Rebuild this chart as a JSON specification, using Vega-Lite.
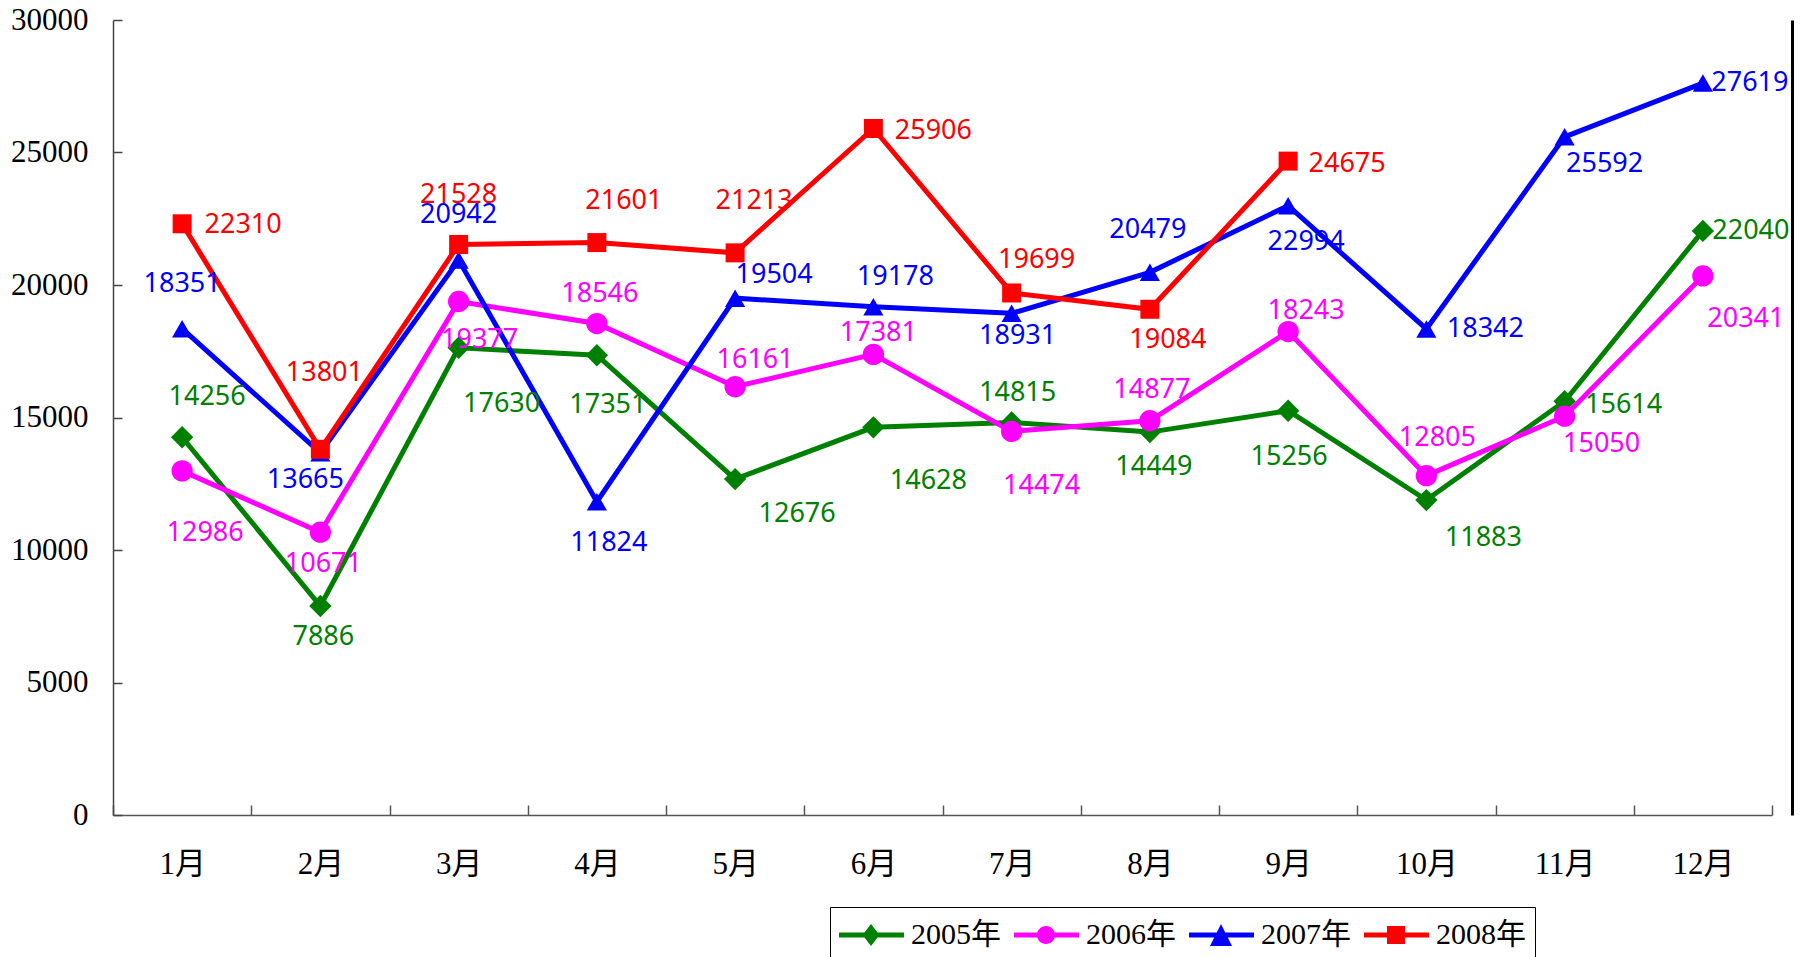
{
  "$schema": "https://vega.github.io/schema/vega-lite/v6.json",
  "width": 1659,
  "height": 795,
  "autosize": {"type": "none"},
  "padding": {"left": 113, "top": 20, "right": 30, "bottom": 142},
  "background": "white",
  "config": {"view": {"stroke": null}},
  "data": {"values": [
    {"m": "1月", "s": "2005年", "v": 14256}, {"m": "2月", "s": "2005年", "v": 7886}, {"m": "3月", "s": "2005年", "v": 17630},
    {"m": "4月", "s": "2005年", "v": 17351}, {"m": "5月", "s": "2005年", "v": 12676}, {"m": "6月", "s": "2005年", "v": 14628},
    {"m": "7月", "s": "2005年", "v": 14815}, {"m": "8月", "s": "2005年", "v": 14449}, {"m": "9月", "s": "2005年", "v": 15256},
    {"m": "10月", "s": "2005年", "v": 11883}, {"m": "11月", "s": "2005年", "v": 15614}, {"m": "12月", "s": "2005年", "v": 22040},
    {"m": "1月", "s": "2006年", "v": 12986}, {"m": "2月", "s": "2006年", "v": 10671}, {"m": "3月", "s": "2006年", "v": 19377},
    {"m": "4月", "s": "2006年", "v": 18546}, {"m": "5月", "s": "2006年", "v": 16161}, {"m": "6月", "s": "2006年", "v": 17381},
    {"m": "7月", "s": "2006年", "v": 14474}, {"m": "8月", "s": "2006年", "v": 14877}, {"m": "9月", "s": "2006年", "v": 18243},
    {"m": "10月", "s": "2006年", "v": 12805}, {"m": "11月", "s": "2006年", "v": 15050}, {"m": "12月", "s": "2006年", "v": 20341},
    {"m": "1月", "s": "2007年", "v": 18351}, {"m": "2月", "s": "2007年", "v": 13665}, {"m": "3月", "s": "2007年", "v": 20942},
    {"m": "4月", "s": "2007年", "v": 11824}, {"m": "5月", "s": "2007年", "v": 19504}, {"m": "6月", "s": "2007年", "v": 19178},
    {"m": "7月", "s": "2007年", "v": 18931}, {"m": "8月", "s": "2007年", "v": 20479}, {"m": "9月", "s": "2007年", "v": 22994},
    {"m": "10月", "s": "2007年", "v": 18342}, {"m": "11月", "s": "2007年", "v": 25592}, {"m": "12月", "s": "2007年", "v": 27619},
    {"m": "1月", "s": "2008年", "v": 22310}, {"m": "2月", "s": "2008年", "v": 13801}, {"m": "3月", "s": "2008年", "v": 21528},
    {"m": "4月", "s": "2008年", "v": 21601}, {"m": "5月", "s": "2008年", "v": 21213}, {"m": "6月", "s": "2008年", "v": 25906},
    {"m": "7月", "s": "2008年", "v": 19699}, {"m": "8月", "s": "2008年", "v": 19084}, {"m": "9月", "s": "2008年", "v": 24675}
  ]},
  "layer": [
    {
      "encoding": {
        "x": {
          "field": "m", "type": "nominal",
          "sort": ["1月","2月","3月","4月","5月","6月","7月","8月","9月","10月","11月","12月"],
          "scale": {"type": "band", "paddingInner": 0, "paddingOuter": 0},
          "axis": {"title": null, "labelAngle": 0, "labelFont": "Liberation Serif, Noto Sans CJK SC", "labelFontSize": 31, "labelColor": "black", "labelPadding": 44, "labelBaseline": "top", "tickBand": "extent", "tickSize": -10, "tickColor": "#555", "tickWidth": 1.5, "domainColor": "#555", "domainWidth": 1.5, "grid": false}
        },
        "y": {
          "field": "v", "type": "quantitative",
          "scale": {"domain": [0, 30000], "nice": false},
          "axis": {"title": null, "values": [0, 5000, 10000, 15000, 20000, 25000, 30000], "format": "d", "labelFont": "Liberation Serif", "labelFontSize": 31, "labelColor": "black", "labelPadding": 34, "tickSize": -9, "tickColor": "#444", "tickWidth": 1.5, "domainColor": "#444", "domainWidth": 1.5, "grid": false}
        },
        "color": {"field": "s", "type": "nominal", "scale": {"domain": ["2005年","2006年","2007年","2008年"], "range": ["#008000","#FF00FF","#0000FF","#FF0000"]}, "legend": null}
      },
      "layer": [
        {
          "mark": {"type": "line", "strokeWidth": 5},
          "encoding": {}
        },
        {
          "mark": {"type": "point", "filled": true, "opacity": 1},
          "encoding": {
            "shape": {"field": "s", "type": "nominal", "scale": {"domain": ["2005年","2006年","2007年","2008年"], "range": ["diamond","circle","triangle-up","square"]}, "legend": null},
            "size": {"field": "s", "type": "nominal", "scale": {"domain": ["2005年","2006年","2007年","2008年"], "range": [500, 361, 484, 361]}, "legend": null}
          }
        },
        {
          "mark": {"type": "text", "font": "Noto Sans", "fontSize": 27, "align": "center", "baseline": "middle",
            "dx": {"expr": "[[25,3,43,11,62,55,6,4,1,57,59,48],[23,3,21,3,20,5,30,2,18,11,37,43],[0,-15,0,12,39,22,6,-2,18,59,40,47],[61,4,0,27,19,60,25,18,59]][indexof(['2005年','2006年','2007年','2008年'], datum.s)][indexof(['1月','2月','3月','4月','5月','6月','7月','8月','9月','10月','11月','12月'], datum.m)]"},
            "dy": {"expr": "[[-40,31,56,50,35,54,-29,35,46,38,4,0],[62,32,38,-30,-27,-21,55,-31,-21,-38,28,43],[-45,27,-45,41,-23,-30,23,-42,36,0,27,0],[1,-76,-50,-42,-52,3,-33,31,3]][indexof(['2005年','2006年','2007年','2008年'], datum.s)][indexof(['1月','2月','3月','4月','5月','6月','7月','8月','9月','10月','11月','12月'], datum.m)]"}
          },
          "encoding": {
            "text": {"field": "v", "type": "quantitative", "format": "d"}
          }
        }
      ]
    },
    {
      "mark": {"type": "point", "filled": true, "opacity": 0, "size": 484},
      "encoding": {
        "color": {"field": "s", "type": "nominal", "scale": {"domain": ["2005年","2006年","2007年","2008年"], "range": ["#008000","#FF00FF","#0000FF","#FF0000"]},
          "legend": {"title": null, "orient": "none", "legendX": 717, "legendY": 887, "direction": "horizontal", "strokeColor": "black", "padding": 9, "clipHeight": 38, "labelFont": "Liberation Serif, Noto Sans CJK SC", "labelFontSize": 30, "labelColor": "black", "symbolSize": 484, "symbolOpacity": 1, "symbolOffset": 17, "labelOffset": 25, "columnPadding": 13, "symbolStrokeWidth": 0}},
        "shape": {"field": "s", "type": "nominal", "scale": {"domain": ["2005年","2006年","2007年","2008年"], "range": [
          "M-3,-0.23L3,-0.23L3,0.23L-3,0.23ZM0,-1L0.77,0L0,1L-0.77,0Z",
          "M-3,-0.23L3,-0.23L3,0.23L-3,0.23ZM0.82,0A0.82,0.82,0,1,1,-0.82,0A0.82,0.82,0,1,1,0.82,0Z",
          "M-3,-0.23L3,-0.23L3,0.23L-3,0.23ZM0,-1L1,1L-1,1Z",
          "M-3,-0.23L3,-0.23L3,0.23L-3,0.23ZM-0.82,-0.82L0.82,-0.82L0.82,0.82L-0.82,0.82Z"]},
          "legend": {"title": null, "orient": "none", "legendX": 717, "legendY": 887, "direction": "horizontal", "strokeColor": "black", "padding": 9, "clipHeight": 38, "labelFont": "Liberation Serif, Noto Sans CJK SC", "labelFontSize": 30, "labelColor": "black", "symbolSize": 484, "symbolOpacity": 1, "symbolOffset": 17, "labelOffset": 25, "columnPadding": 13, "symbolStrokeWidth": 0}}
      }
    },
    {
      "mark": {"type": "point", "opacity": 0},
      "encoding": {
        "y": {"field": "v", "type": "quantitative", "scale": {"domain": [0, 30000], "nice": false},
          "axis": {"orient": "right", "offset": 20, "title": null, "labels": false, "ticks": false, "grid": false, "domainColor": "black", "domainWidth": 3}}
      }
    }
  ],
  "resolve": {"scale": {"y": "independent", "shape": "independent"}, "axis": {"y": "independent"}, "legend": {"color": "independent", "shape": "independent"}}
}
